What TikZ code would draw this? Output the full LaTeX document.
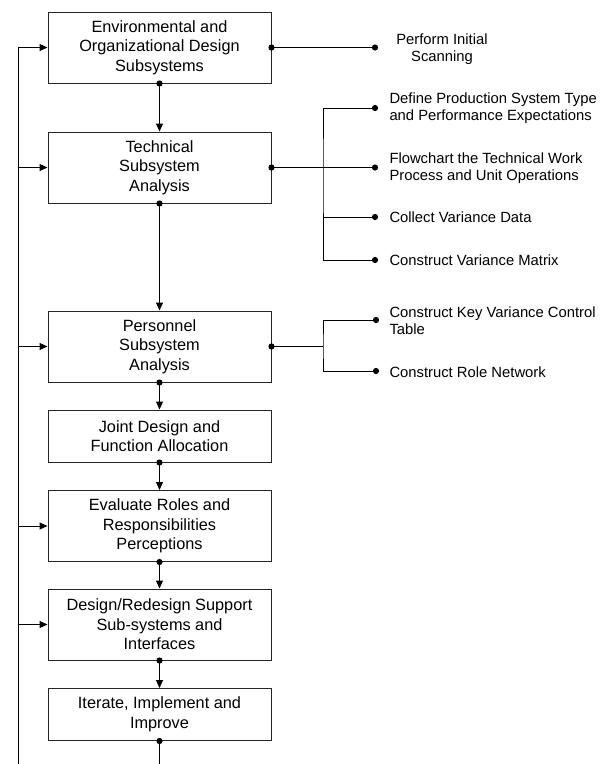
\documentclass[tikz,border=0pt]{standalone}
\usepackage{fontspec}
\setmainfont{Liberation Sans}
\usetikzlibrary{arrows.meta}
\begin{document}
\begin{tikzpicture}[x=1pt,y=-1pt,
  line width=1pt,
  box/.style={draw=black!85, line width=1pt, minimum width=223pt, inner sep=0pt, align=center,
    font=\fontsize{16.3}{19.5}\selectfont},
  side/.style={align=left, anchor=west, inner sep=0pt, font=\fontsize{14.8}{17.2}\selectfont},
  arr/.style={-{Triangle[length=8pt,width=7pt]}},
  dotr/.style={radius=3.1pt}
]
\useasboundingbox (0,0) rectangle (601,764);
\fill[white] (0,0) rectangle (601,764);

% main boxes
\node[box, minimum height=71pt] (b1) at (159.5,47.5) {Environmental and\\Organizational Design\\Subsystems};
\node[box, minimum height=71pt] (b2) at (159.5,167.5) {Technical\\Subsystem\\Analysis};
\node[box, minimum height=71pt] (b3) at (159.5,346.5) {Personnel\\Subsystem\\Analysis};
\node[box, minimum height=52pt] (b4) at (159.5,436) {Joint Design and\\Function Allocation};
\node[box, minimum height=71pt] (b5) at (159.5,526) {Evaluate Roles and\\Responsibilities\\Perceptions};
\node[box, minimum height=71pt] (b6) at (159.5,624.5) {Design/Redesign Support\\Sub-systems and\\Interfaces};
\node[box, minimum height=52pt] (b7) at (159.5,714.5) {Iterate, Implement and\\Improve};

% vertical flow
\draw[arr] (b1.south) -- (b2.north);
\draw[arr] (b2.south) -- (b3.north);
\draw[arr] (b3.south) -- (b4.north);
\draw[arr] (b4.south) -- (b5.north);
\draw[arr] (b5.south) -- (b6.north);
\draw[arr] (b6.south) -- (b7.north);
\coordinate (bend) at (159.5,770);
\draw (b7.south) -- (bend);
\foreach \b in {b1,b2,b3,b4,b5,b6,b7} \fill (\b.south) circle[dotr];

% feedback line on the left
\coordinate (f1) at (18,47.5);
\coordinate (f2) at (18,167.5);
\coordinate (f3) at (18,346.5);
\coordinate (f5) at (18,526);
\coordinate (f6) at (18,624.5);
\coordinate (fend) at (18,770);
\draw (f1) -- (fend);
\draw[arr] (f1) -- (b1.west);
\draw[arr] (f2) -- (b2.west);
\draw[arr] (f3) -- (b3.west);
\draw[arr] (f5) -- (b5.west);
\draw[arr] (f6) -- (b6.west);

% right side: box 1
\node[align=center, inner sep=0pt, font=\fontsize{14.8}{17.2}\selectfont] (t1) at (442,49) {Perform Initial\\Scanning};
\coordinate (e1) at (375,47.5);
\draw (b1.east) -- (e1);
\fill (b1.east) circle[dotr];
\fill (e1) circle[dotr];

% right side: box 2
\coordinate (j2) at (323,167.5);
\coordinate (e21) at (375,108);
\coordinate (e22) at (375,167.5);
\coordinate (e23) at (375,217);
\coordinate (e24) at (375,260);
\node[side] (t21) at (389,108.5) {Define Production System Type\\and Performance Expectations};
\node[side] (t22) at (389,168) {Flowchart the Technical Work\\Process and Unit Operations};
\node[side] (t23) at (389,217) {Collect Variance Data};
\node[side] (t24) at (389,260) {Construct Variance Matrix};
\draw[line width=1.6pt] (b2.east) -- (j2);
\draw (e21) -| (j2) |- (e24);
\draw (j2) -- (e22);
\draw (j2 |- e23) -- (e23);
\fill (b2.east) circle[dotr];
\foreach \e in {e21,e22,e23,e24} \fill (\e) circle[dotr];

% right side: box 3
\coordinate (j3) at (323,346.5);
\coordinate (e31) at (376,320);
\coordinate (e32) at (376,371);
\node[side] (t31) at (389,321) {Construct Key Variance Control\\Table};
\node[side] (t32) at (389,372) {Construct Role Network};
\draw[line width=1.3pt] (b3.east) -- (j3);
\draw (e31) -| (j3) |- (e32);
\fill (b3.east) circle[dotr];
\foreach \e in {e31,e32} \fill (\e) circle[dotr];
\end{tikzpicture}
\end{document}
